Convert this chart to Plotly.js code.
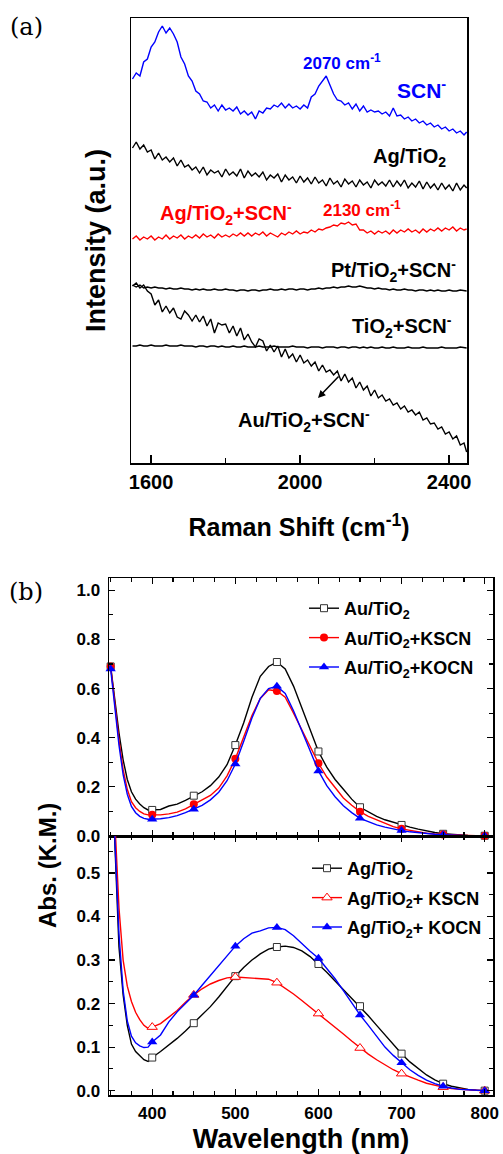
<!DOCTYPE html>
<html><head><meta charset="utf-8">
<script src="https://cdn.plot.ly/plotly-3.0.1.min.js"></script>
<style>html,body{margin:0;padding:0;background:#fff;} #chart{width:503px;height:1154px;}</style>
</head><body><div id="chart"></div>
<script>
// ---------- Panel (a): Raman spectra (arbitrary intensity units, offset stacked) ----------
const ramanShift = [1550,1560,1570,1580,1590,1600,1610,1620,1630,1640,
1650,1660,1670,1680,1690,1700,1710,1720,1730,1740,
1750,1760,1770,1780,1790,1800,1810,1820,1830,1840,
1850,1860,1870,1880,1890,1900,1910,1920,1930,1940,
1950,1960,1970,1980,1990,2000,2010,2020,2030,2040,
2050,2060,2070,2080,2090,2100,2110,2120,2130,2140,
2150,2160,2170,2180,2190,2200,2210,2220,2230,2240,
2250,2260,2270,2280,2290,2300,2310,2320,2330,2340,
2350,2360,2370,2380,2390,2400,2410,2420,2430,2440,2447];

const scnOnly = [384,390,387,401,404,416,421,431,437,430,
435,429,421,406,399,387,382,372,369,362,
361,355,358,352,358,353,355,352,356,349,
352,348,351,344,352,350,355,354,358,356,
360,355,359,355,357,354,358,355,366,369,
377,382,387,378,369,363,362,358,360,354,
359,352,357,351,353,351,352,349,351,347,
355,347,348,344,346,342,344,340,342,338,
340,336,338,334,336,332,334,330,332,328,331];

const agTiO2 = [315,321,314,318,311,313,304,310,303,306,
301,305,297,303,296,298,293,296,290,296,
288,293,290,292,286,294,288,291,287,294,
285,292,287,290,286,291,283,288,285,289,
281,288,283,286,280,287,281,285,279,286,
280,283,277,285,279,282,276,284,279,282,
276,283,278,281,275,283,278,281,277,283,
276,282,277,283,275,280,276,282,274,281,
275,279,273,280,274,278,272,280,273,278,275];

const agTiO2Scn = [224,227,223,226,224,227,223,226,224,228,
224,227,225,228,224,227,225,228,225,229,
226,228,225,229,226,228,226,229,227,230,
227,230,227,230,228,231,227,230,228,226,
230,228,231,229,232,229,231,230,233,231,
234,233,235,236,238,237,240,239,241,238,
239,233,233,230,232,229,232,230,232,229,
233,230,233,231,234,231,233,230,234,231,
234,232,235,232,235,233,236,232,235,233,234];

const ptTiO2Scn = [178,176,178,175,176,175,176,175,175,174,
175,174,174,175,174,174,173,174,173,174,
173,173,174,173,173,174,173,173,172,173,
173,172,173,173,172,173,173,174,173,173,
174,173,174,174,173,174,174,173,174,174,
175,174,175,175,176,175,176,176,177,176,
176,177,176,175,175,174,175,174,174,173,
174,173,173,174,173,173,172,173,173,172,
173,172,173,172,172,173,172,172,173,172,172];

const tiO2Scn = [117,117,118,117,117,118,117,117,117,118,
117,117,117,118,117,117,117,116,117,117,
116,117,117,116,117,116,116,117,116,116,
117,116,116,116,117,116,116,116,117,116,
116,116,116,117,116,116,116,115,116,116,
116,115,116,116,116,115,116,116,115,116,
116,115,116,115,116,115,115,116,115,115,
116,115,115,115,116,115,115,115,116,115,
115,115,115,116,115,115,115,115,116,115,115];

const auTiO2Scn = [177,180,175,178,172,169,158,163,151,157,
150,155,146,144,152,148,142,148,141,147,
137,144,130,140,138,139,130,137,127,135,
123,129,121,116,124,122,112,118,111,117,
106,114,105,109,101,108,100,103,97,101,
92,98,91,93,88,92,82,89,81,85,
75,81,73,77,67,73,65,68,62,64,
58,60,54,57,51,53,48,51,43,45,
39,40,34,36,29,31,24,27,18,20,11];

// ---------- Panel (b): absorbance (K.M.) ----------
const wavelength = [350,355,360,365,370,375,380,385,390,395,
400,410,420,430,440,450,460,470,480,490,
500,510,520,530,540,550,560,570,580,590,
600,610,620,630,640,650,660,670,680,690,
700,710,720,730,740,750,760,770,780,790,800];

const auTiO2 = [0.69,0.55,0.42,0.31,0.23,0.18,0.15,0.13,0.115,0.106,
0.106,0.108,0.122,0.13,0.145,0.164,0.18,0.205,0.24,0.29,
0.37,0.46,0.565,0.65,0.69,0.708,0.68,0.61,0.52,0.43,
0.344,0.28,0.23,0.19,0.15,0.117,0.097,0.08,0.066,0.055,
0.045,0.036,0.028,0.02,0.014,0.009,0.006,0.004,0.002,0.001,0.001];

const auTiO2Kscn = [0.69,0.53,0.39,0.27,0.19,0.14,0.115,0.1,0.09,0.086,
0.086,0.086,0.09,0.097,0.11,0.129,0.145,0.165,0.195,0.245,
0.314,0.4,0.49,0.56,0.595,0.59,0.565,0.5,0.43,0.36,
0.296,0.24,0.195,0.155,0.125,0.099,0.08,0.065,0.05,0.038,
0.029,0.022,0.016,0.011,0.008,0.006,0.004,0.003,0.002,0.001,0.001];

const auTiO2Kocn = [0.68,0.52,0.37,0.25,0.17,0.12,0.095,0.08,0.072,0.068,
0.068,0.07,0.075,0.083,0.095,0.109,0.125,0.147,0.178,0.225,
0.293,0.385,0.48,0.56,0.6,0.609,0.58,0.51,0.43,0.345,
0.265,0.205,0.16,0.123,0.095,0.072,0.057,0.045,0.036,0.028,
0.022,0.017,0.013,0.009,0.007,0.005,0.003,0.002,0.001,0.001,0.001];

const agTiO2Abs = [1.2,0.57,0.33,0.22,0.15,0.107,0.09,0.08,0.071,0.067,
0.076,0.09,0.104,0.12,0.137,0.155,0.173,0.193,0.215,0.24,
0.263,0.283,0.3,0.314,0.325,0.33,0.332,0.329,0.321,0.308,
0.291,0.272,0.252,0.232,0.213,0.194,0.172,0.15,0.128,0.106,
0.085,0.066,0.05,0.036,0.025,0.016,0.01,0.006,0.003,0.001,0];

const agTiO2Kscn = [1.2,0.62,0.42,0.3,0.24,0.205,0.18,0.163,0.15,0.143,
0.146,0.154,0.169,0.184,0.203,0.22,0.234,0.245,0.253,0.259,
0.261,0.26,0.259,0.257,0.256,0.248,0.236,0.222,0.207,0.192,
0.177,0.161,0.146,0.13,0.114,0.098,0.084,0.071,0.059,0.048,
0.039,0.031,0.024,0.017,0.012,0.008,0.005,0.003,0.002,0.001,0];

const agTiO2Kocn = [1.2,0.58,0.36,0.23,0.16,0.125,0.11,0.103,0.099,0.1,
0.112,0.128,0.158,0.181,0.2,0.219,0.242,0.264,0.287,0.31,
0.332,0.349,0.362,0.367,0.374,0.375,0.37,0.356,0.337,0.32,
0.304,0.281,0.257,0.23,0.203,0.174,0.15,0.125,0.1,0.081,
0.064,0.048,0.035,0.024,0.016,0.01,0.006,0.003,0.002,0.001,0];

// ---------- build ----------
const F = 'Liberation Sans, Arial, sans-serif';
const BLUE = '#0000ff', RED = '#ff0000', BLACK = '#000000';

function spec(y, color) {
  return {x: ramanShift, y: y, type: 'scatter', mode: 'lines', xaxis: 'x', yaxis: 'y',
    line: {color: color, width: 1.4}, showlegend: false, hoverinfo: 'skip'};
}

function pick(arr, minWl) {
  const xs = [], ys = [];
  wavelength.forEach((w, i) => { if (w % 50 === 0 && w >= minWl) { xs.push(w); ys.push(arr[i]); } });
  return {xs, ys};
}

function absSeries(arr, name, color, marker, xa, ya, legendId, group, minWl) {
  const m = pick(arr, minWl);
  return [
    {x: wavelength, y: arr, type: 'scatter', mode: 'lines', xaxis: xa, yaxis: ya,
     line: {color: color, width: 1.4}, showlegend: false, legendgroup: group, hoverinfo: 'skip'},
    {x: m.xs, y: m.ys, type: 'scatter', mode: 'markers', xaxis: xa, yaxis: ya, cliponaxis: false,
     marker: marker, showlegend: false, legendgroup: group, hoverinfo: 'skip'},
    {x: [null], y: [null], type: 'scatter', mode: 'lines+markers', xaxis: xa, yaxis: ya,
     name: name, legend: legendId, legendgroup: group,
     line: {color: color, width: 1.4}, marker: marker}
  ];
}

const sqOpen = {symbol: 'square', size: 7, color: '#ffffff', line: {color: '#333333', width: 1}};
const redDot = {symbol: 'circle', size: 8, color: RED, line: {width: 0}};
const blueTri = {symbol: 'triangle-up', size: 9, color: BLUE, line: {width: 0}};
const redTriOpen = {symbol: 'triangle-up', size: 9, color: '#ffffff', line: {color: RED, width: 1}};

const data = [
  spec(scnOnly, BLUE), spec(agTiO2, BLACK), spec(agTiO2Scn, RED),
  spec(ptTiO2Scn, BLACK), spec(tiO2Scn, BLACK), spec(auTiO2Scn, BLACK),
  ...absSeries(auTiO2, 'Au/TiO<sub>2</sub>', BLACK, sqOpen, 'x2', 'y2', 'legend', 'a1', 350),
  ...absSeries(auTiO2Kscn, 'Au/TiO<sub>2</sub>+KSCN', RED, redDot, 'x2', 'y2', 'legend', 'a2', 350),
  ...absSeries(auTiO2Kocn, 'Au/TiO<sub>2</sub>+KOCN', BLUE, blueTri, 'x2', 'y2', 'legend', 'a3', 350),
  ...absSeries(agTiO2Abs, 'Ag/TiO<sub>2</sub>', BLACK, sqOpen, 'x3', 'y3', 'legend2', 'b1', 400),
  ...absSeries(agTiO2Kscn, 'Ag/TiO<sub>2</sub>+ KSCN', RED, redTriOpen, 'x3', 'y3', 'legend2', 'b2', 400),
  ...absSeries(agTiO2Kocn, 'Ag/TiO<sub>2</sub>+ KOCN', BLUE, blueTri, 'x3', 'y3', 'legend2', 'b3', 400)
];

const W = 503, H = 1154;
const px = v => v / W, py = v => 1 - v / H;

const tickFontA = {family: F, size: 20, color: BLACK, weight: 700};
const tickFontB = {family: F, size: 17, color: BLACK, weight: 700};
const boxAxis = {showline: true, linecolor: BLACK, linewidth: 1.5, mirror: true, showgrid: false, zeroline: false, fixedrange: true};

function lbl(text, x, y, color, size) {
  return {text: text, x: x, y: y, xref: 'x', yref: 'y', showarrow: false, xanchor: 'center', yanchor: 'middle',
    font: {family: F, size: size, color: color, weight: 700}};
}

const layout = {
  width: W, height: H, margin: {l: 0, r: 0, t: 0, b: 0},
  paper_bgcolor: '#ffffff', plot_bgcolor: '#ffffff', showlegend: true,
  xaxis: Object.assign({}, boxAxis, {domain: [px(131), px(467)], anchor: 'y', range: [1546, 2448],
    tick0: 1600, dtick: 400, ticks: 'inside', ticklen: 8, tickwidth: 1.5, tickcolor: BLACK,
    minor: {dtick: 200, tick0: 1600, ticks: 'inside', ticklen: 5, tickwidth: 1.5, tickcolor: BLACK},
    mirror: true, tickfont: tickFontA, ticklabelstandoff: 0,
    title: {text: 'Raman Shift (cm<sup>-1</sup>)', font: {family: F, size: 25, color: BLACK, weight: 700}, standoff: 27}}),
  yaxis: Object.assign({}, boxAxis, {domain: [py(463), py(18)], anchor: 'x', range: [0, 445],
    ticks: '', showticklabels: false,
    title: {text: 'Intensity (a.u.)', font: {family: F, size: 27, color: BLACK, weight: 700}, standoff: 16}}),
  xaxis2: Object.assign({}, boxAxis, {domain: [px(109), px(493)], anchor: 'y2', range: [348, 810],
    dtick: 100, ticks: 'inside', ticklen: 6, tickwidth: 1.2, tickcolor: BLACK, mirror: 'ticks',
    minor: {dtick: 25, ticks: 'inside', ticklen: 4, tickwidth: 1.2, tickcolor: BLACK},
    showticklabels: false, matches: 'x3'}),
  yaxis2: Object.assign({}, boxAxis, {domain: [py(836), py(578)], anchor: 'x2', range: [0, 1.05],
    dtick: 0.2, tick0: 0, ticks: 'inside', ticklen: 6, tickwidth: 1.2, tickcolor: BLACK, mirror: 'ticks',
    minor: {dtick: 0.1, ticks: 'inside', ticklen: 4, tickwidth: 1.2, tickcolor: BLACK},
    tickformat: '.1f', tickfont: tickFontB, ticklabelstandoff: 4}),
  xaxis3: Object.assign({}, boxAxis, {domain: [px(109), px(493)], anchor: 'y3', range: [348, 810],
    dtick: 100, ticks: 'inside', ticklen: 6, tickwidth: 1.2, tickcolor: BLACK, mirror: 'ticks',
    minor: {dtick: 25, ticks: 'inside', ticklen: 4, tickwidth: 1.2, tickcolor: BLACK},
    tickfont: tickFontB, ticklabelstandoff: 2,
    title: {text: 'Wavelength (nm)', font: {family: F, size: 27, color: BLACK, weight: 700}, standoff: 12}}),
  yaxis3: Object.assign({}, boxAxis, {domain: [py(1095), py(836)], anchor: 'x3', range: [-0.01, 0.585],
    dtick: 0.1, tick0: 0, ticks: 'inside', ticklen: 6, tickwidth: 1.2, tickcolor: BLACK, mirror: 'ticks',
    minor: {dtick: 0.05, ticks: 'inside', ticklen: 4, tickwidth: 1.2, tickcolor: BLACK},
    tickformat: '.1f', tickfont: tickFontB, ticklabelstandoff: 4}),
  legend: {x: px(304), y: py(590), xanchor: 'left', yanchor: 'top', bgcolor: 'rgba(0,0,0,0)',
    font: {family: F, size: 18, color: BLACK, weight: 700}, tracegroupgap: 3, itemwidth: 30},
  legend2: {x: px(307), y: py(850), xanchor: 'left', yanchor: 'top', bgcolor: 'rgba(0,0,0,0)',
    font: {family: F, size: 18, color: BLACK, weight: 700}, tracegroupgap: 3, itemwidth: 30},
  annotations: [
    {text: '(a)', x: px(26), y: py(27), xref: 'paper', yref: 'paper', showarrow: false,
     xanchor: 'center', yanchor: 'middle', font: {family: 'DejaVu Serif, serif', size: 24, color: BLACK}},
    {text: '(b)', x: px(26), y: py(592), xref: 'paper', yref: 'paper', showarrow: false,
     xanchor: 'center', yanchor: 'middle', font: {family: 'DejaVu Serif, serif', size: 24, color: BLACK}},
    {text: 'Abs. (K.M.)', x: px(47), y: py(866), xref: 'paper', yref: 'paper', showarrow: false, textangle: -90,
     xanchor: 'center', yanchor: 'middle', font: {family: F, size: 24, color: BLACK, weight: 700}},
    lbl('2070 cm<sup>-1</sup>', 2112, 401, BLUE, 17),
    lbl('SCN<sup>-</sup>', 2327, 374, BLUE, 21),
    lbl('Ag/TiO<sub>2</sub>', 2293, 305, BLACK, 20),
    lbl('Ag/TiO<sub>2</sub>+SCN<sup>-</sup>', 1801, 249, RED, 20),
    lbl('2130 cm<sup>-1</sup>', 2166, 254, RED, 17),
    lbl('Pt/TiO<sub>2</sub>+SCN<sup>-</sup>', 2250, 193, BLACK, 20),
    lbl('TiO<sub>2</sub>+SCN<sup>-</sup>', 2273, 137, BLACK, 20),
    lbl('Au/TiO<sub>2</sub>+SCN<sup>-</sup>', 2011, 43, BLACK, 20),
    {text: '', x: 2048, y: 65, xref: 'x', yref: 'y', ax: 2107, ay: 88, axref: 'x', ayref: 'y',
     showarrow: true, arrowhead: 2, arrowsize: 1, arrowwidth: 1.5, arrowcolor: BLACK}
  ]
};

Plotly.newPlot('chart', data, layout, {displayModeBar: false, staticPlot: true});
</script>
</body></html>
